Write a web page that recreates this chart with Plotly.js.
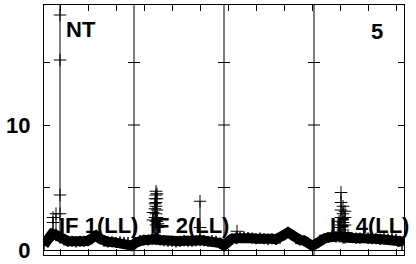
<!DOCTYPE html>
<html>
<head>
<meta charset="utf-8">
<script src="https://cdn.plot.ly/plotly-3.0.1.min.js"></script>
<style>html,body{margin:0;padding:0;background:#fff}#chart{width:416px;height:264px}</style>
</head>
<body>
<div id="chart"></div>
<script>
// sample positions: one sample every 4 x-units, 4 panels of 90 units each
const sampleStep = 4;
const bandY = [
  0.4, 0.9, 1.3, 1.2, 1.0, 0.8, 0.7, 0.7, 0.65, 0.7, 0.7, 0.75, 0.9, 1.15, 0.9, 0.7, 0.65, 0.65, 0.6, 0.65, 0.6, 0.6, 0.35,
  0.6, 0.75, 0.8, 0.8, 0.9, 0.9, 0.8, 0.75, 0.7, 0.7, 0.65, 0.7, 0.75, 0.7, 0.7, 0.75, 0.8, 0.75, 0.7, 0.75, 0.7, 0.55, 0.35,
  0.7, 0.9, 0.95, 1.0, 1.05, 1.0, 0.95, 0.9, 0.95, 0.9, 0.85, 0.9, 0.85, 0.95, 1.2, 1.4, 1.2, 0.9, 0.8, 0.75, 0.6, 0.35,
  0.5, 0.8, 0.9, 1.0, 1.1, 1.05, 1.1, 1.0, 1.05, 1.0, 0.95, 0.95, 1.0, 0.95, 0.9, 0.9, 0.85, 0.9, 0.85, 0.9, 0.85, 0.7, 0.4
];
const bandX = bandY.map((_, i) => Math.min(i * sampleStep, 358));

// spikes: x position and the stacked readings at that position
const spikeX = [9, 12, 16, 109, 111, 112, 113, 114, 156, 193, 295, 297, 299, 301];
const spikeVals = [
  [1.2, 2.2, 2.6],
  [1.2, 2.9],
  [1.0, 2.9, 4.4, 15.2, 18.8, 25],
  [0.9, 2.4, 3.0],
  [0.9, 2.6, 3.3, 3.7, 4.1],
  [0.9, 2.0, 2.3, 2.9, 3.5, 3.8, 4.4, 4.7],
  [0.9, 2.3, 2.6, 3.2, 4.1, 4.5],
  [0.9, 1.8, 2.1],
  [0.8, 1.8, 3.9],
  [0.95, 1.5],
  [1.1, 1.8, 2.3],
  [1.1, 2.0, 2.6, 3.2, 3.8, 4.6],
  [1.0, 1.6, 2.2, 2.9, 3.5],
  [1.0, 1.4, 2.0, 2.6, 3.1]
];

const panelBounds = [90, 180, 270];
const panelTickVals = [5, 10, 15];
const panelLabels = ["IF 1(LL)", "IF 2(LL)", "IF 4(LL)"];
const panelLabelX = [13, 104, 284];
const panelLabelY = 1.95;

const yTickVals = [0, 5, 10, 15];
const yTickText = ["0", "", "10", ""];

const cornerLeft = "NT";
const cornerRight = "5";

const sx = [], sy = [];
spikeX.forEach((x, i) => {
  spikeVals[i].forEach(v => { sx.push(x); sy.push(v); });
  sx.push(null); sy.push(null);
});

const FONT = {family: "Liberation Sans, Arial, sans-serif", size: 22, color: "#000", weight: "bold"};

const traces = [
  {x: bandX, y: bandY, type: "scatter", mode: "lines", line: {color: "#000", width: 10}, hoverinfo: "skip"},
  {x: bandX, y: bandY, type: "scatter", mode: "markers",
   marker: {symbol: "cross-thin", size: 8, color: "#000", line: {color: "#000", width: 1.5}}, hoverinfo: "skip"},
  {x: sx, y: sy, type: "scatter", mode: "lines+markers", connectgaps: false,
   line: {color: "#000", width: 1},
   marker: {symbol: "cross-thin", size: 9, color: "#000", line: {color: "#000", width: 1}}, hoverinfo: "skip"}
];

const shapes = [];
panelBounds.forEach(b => {
  shapes.push({type: "line", xref: "x", yref: "paper", x0: b, x1: b, y0: 0, y1: 1, line: {color: "#000", width: 1}, layer: "above"});
  panelTickVals.forEach(v => {
    shapes.push({type: "line", xref: "x", xsizemode: "pixel", xanchor: b, x0: -6, x1: 6, yref: "y", y0: v, y1: v,
      line: {color: "#000", width: 1}});
  });
});

const annotations = [
  {xref: "paper", yref: "paper", x: 0.055, y: 0.9, xanchor: "left", yanchor: "middle", text: cornerLeft, showarrow: false, font: FONT},
  {xref: "paper", yref: "paper", x: 0.947, y: 0.892, xanchor: "right", yanchor: "middle", text: cornerRight, showarrow: false, font: FONT}
];
panelLabels.forEach((t, i) => {
  annotations.push({xref: "x", yref: "y", x: panelLabelX[i], y: panelLabelY, xanchor: "left", yanchor: "middle",
    text: t, showarrow: false, font: FONT});
});

const layout = {
  width: 416, height: 264,
  margin: {l: 44, r: 12, t: 5, b: 9, pad: 0},
  paper_bgcolor: "#fff", plot_bgcolor: "#fff",
  showlegend: false,
  xaxis: {range: [0, 360], tick0: 16, dtick: 28.08, ticks: "inside", ticklen: 6, tickcolor: "#000", tickwidth: 1,
    showticklabels: false, showline: true, mirror: "ticks", linecolor: "#000", linewidth: 1,
    showgrid: false, zeroline: false},
  yaxis: {range: [-0.4, 19.6], tickmode: "array", tickvals: yTickVals, ticktext: yTickText,
    ticks: "inside", ticklen: 6, tickcolor: "#000", tickwidth: 1, tickfont: FONT, ticklabelstandoff: 8,
    showline: true, mirror: "ticks", linecolor: "#000", linewidth: 1,
    showgrid: false, zeroline: true, zerolinecolor: "#000", zerolinewidth: 1},
  shapes: shapes,
  annotations: annotations
};

Plotly.newPlot("chart", traces, layout, {staticPlot: true, displayModeBar: false});
</script>
</body>
</html>
